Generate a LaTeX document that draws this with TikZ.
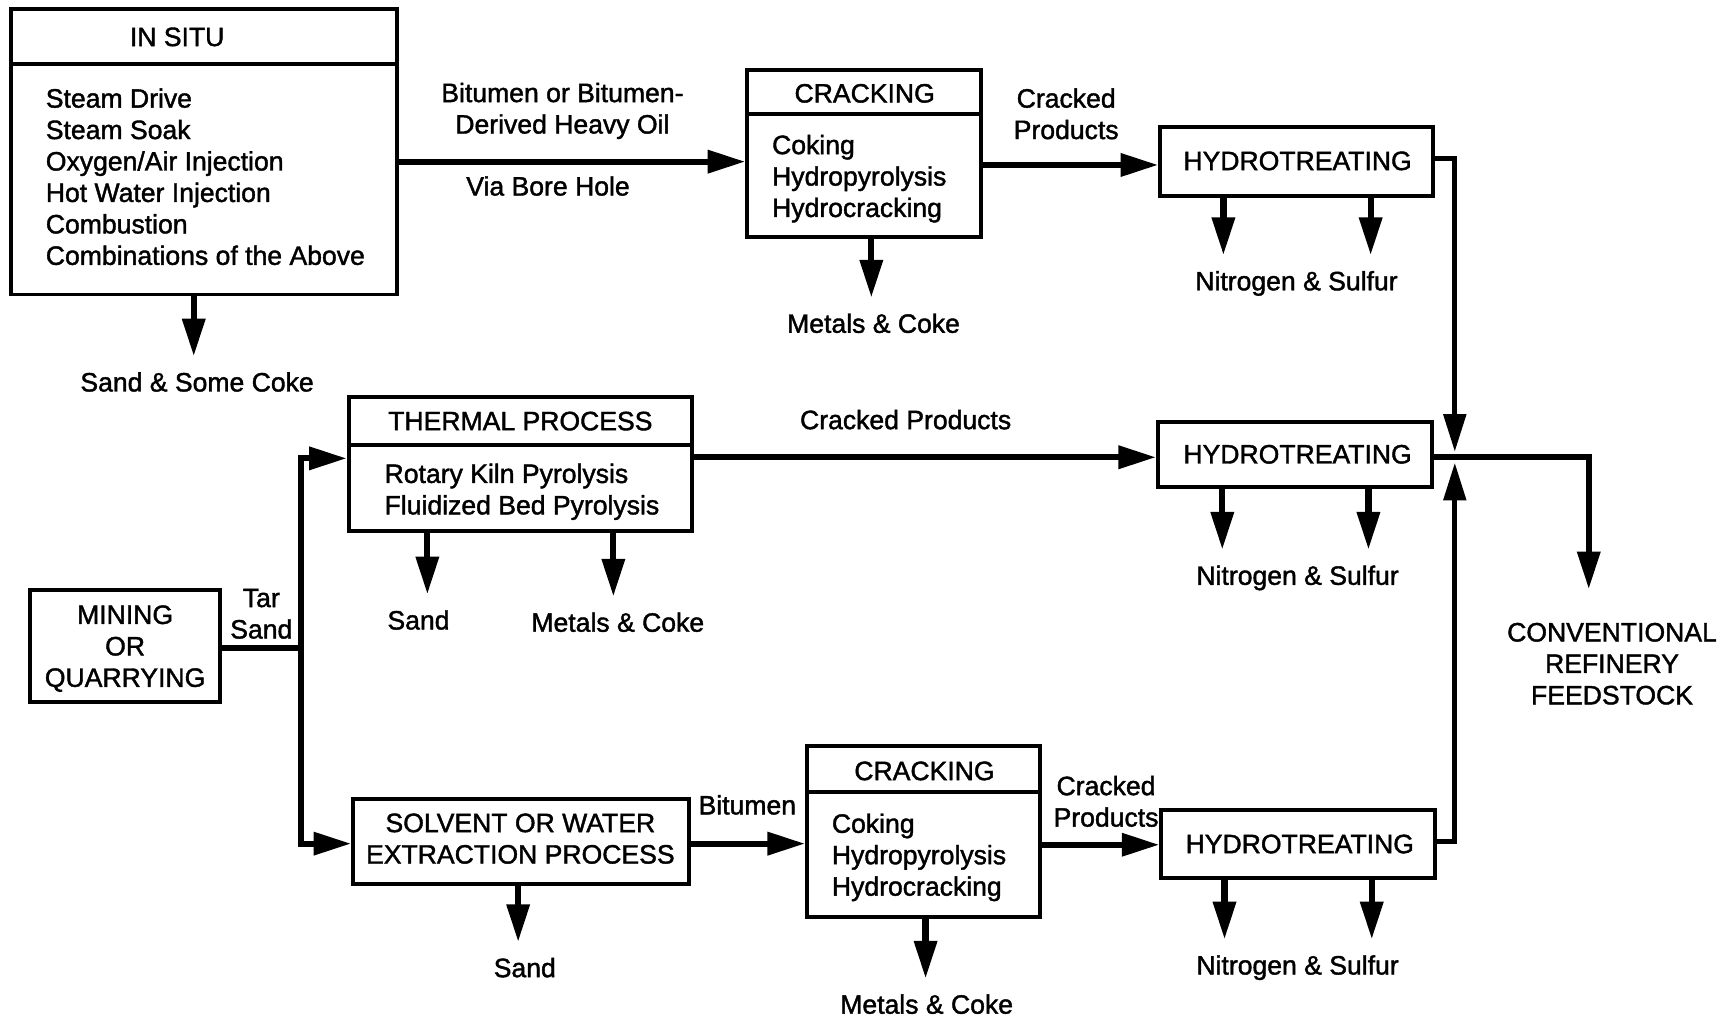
\documentclass[tikz,border=0pt]{standalone}
\usepackage{fontspec}
\setmainfont[FakeBold=1.5]{Liberation Sans}
\usetikzlibrary{arrows.meta,fit}
\begin{document}
\begin{tikzpicture}[x=0.5pt,y=-0.5pt,
  box/.style={draw, line width=1.8pt, inner sep=0pt, fit={#1}},
  divider/.style={line width=1.8pt},
  txt/.style={font=\fontsize{12}{14.2}\selectfont, inner sep=0pt},
  lbl/.style={txt, inner ysep=7pt},
  arr/.style={line width=2.8pt, line cap=rect, -{Triangle[length=17pt,width=10pt]}},
  conn/.style={line width=2.8pt, line cap=rect}]
\useasboundingbox[fill=white] (0,0) rectangle (1568,920);

% ---------- IN SITU ----------
\node[box={(10,8) (359,266)}] (insitu) {};
\draw[divider] (insitu.west |- 0,58) -- (insitu.east |- 0,58);
\node[txt, anchor=base] (insituT) at (160,41.6) {IN SITU};
\node[txt, anchor=north west, align=left] (insituL) at (41,79.4)
  {Steam Drive\\Steam Soak\\Oxygen/Air Injection\\Hot Water Injection\\Combustion\\Combinations of the Above};
\node[lbl] (sandcoke) at (178,345) {Sand \& Some Coke};
\draw[arr] (insitu.south -| 175,0) -- (sandcoke.north -| 175,0);

% ---------- CRACKING 1 ----------
\node[box={(675,63) (886,214)}] (crackA) {};
\draw[divider] (crackA.west |- 0,103) -- (crackA.east |- 0,103);
\node[txt, anchor=base] (crackAT) at (781,92.6) {CRACKING};
\node[txt, anchor=north west, align=left] (crackAL) at (697,121.4)
  {Coking\\Hydropyrolysis\\Hydrocracking};
\node[lbl] (mcA) at (789,292) {Metals \& Coke};
\draw[arr] (crackA.south -| 787,0) -- (mcA.north -| 787,0);

\node[txt, anchor=north, align=center] (bitlbl) at (508,74.4) {Bitumen or Bitumen-\\Derived Heavy Oil};
\node[txt, anchor=base] (borelbl) at (495,176.6) {Via Bore Hole};
\draw[arr] (insitu.east |- 0,146) -- (crackA.west |- 0,146);

% ---------- HYDROTREATING 1 ----------
\node[box={(1048,115) (1294,177)}] (hydA) {};
\node[txt, anchor=base] (hydAT) at (1172,153.6) {HYDROTREATING};
\node[txt, anchor=north, align=center] (cpA) at (963,79.4) {Cracked\\Products};
\draw[arr] (crackA.east |- 0,149) -- (hydA.west |- 0,149);
\node[lbl] (nsA) at (1171,256) {Nitrogen \& Sulfur};
\draw[arr] (hydA.south -| 1105,0) -- (nsA.north -| 1105,0);
\draw[arr] (hydA.south -| 1238,0) -- (nsA.north -| 1238,0);

% ---------- THERMAL PROCESS ----------
\node[box={(315,359) (625,480)}] (thermal) {};
\draw[divider] (thermal.west |- 0,402) -- (thermal.east |- 0,402);
\node[txt, anchor=base] (thermalT) at (470,388.6) {THERMAL PROCESS};
\node[txt, anchor=north west, align=left] (thermalL) at (347,418.4)
  {Rotary Kiln Pyrolysis\\Fluidized Bed Pyrolysis};
\node[lbl] (sandB) at (378,560) {Sand};
\node[lbl] (mcB) at (558,562) {Metals \& Coke};
\draw[arr] (thermal.south -| 386,0) -- (sandB.north -| 386,0);
\draw[arr] (thermal.south -| 554,0) -- (mcB.north -| 554,0);

% ---------- HYDROTREATING 2 ----------
\node[box={(1046,381) (1293,440)}] (hydB) {};
\node[txt, anchor=base] (hydBT) at (1172,418.6) {HYDROTREATING};
\node[txt, anchor=base] (cpB) at (818,387.6) {Cracked Products};
\draw[arr] (thermal.east |- 0,413) -- (hydB.west |- 0,413);
\node[lbl] (nsB) at (1172,522) {Nitrogen \& Sulfur};
\draw[arr] (hydB.south -| 1104,0) -- (nsB.north -| 1104,0);
\draw[arr] (hydB.south -| 1236,0) -- (nsB.north -| 1236,0);

% ---------- MINING ----------
\node[box={(27,533) (199,634)}] (mining) {};
\node[txt, anchor=north, align=center] (miningT) at (113,546.4) {MINING\\OR\\QUARRYING};
\node[txt, anchor=north, align=center] (tarsand) at (236,531.4) {Tar\\Sand};
\coordinate (ts) at (272,585);

% ---------- SOLVENT ----------
\node[box={(319,722) (622,798)}] (solvent) {};
\node[txt, anchor=north, align=center] (solventT) at (470,734.4) {SOLVENT OR WATER\\EXTRACTION PROCESS};
\node[lbl] (sandC) at (474,874) {Sand};
\draw[arr] (solvent.south -| 468,0) -- (sandC.north -| 468,0);

\draw[conn] (mining.east |- ts) -- (ts);
\draw[arr] (ts) |- (thermal.west |- 0,414);
\draw[arr] (ts) |- (solvent.west |- 0,762);

% ---------- CRACKING 2 ----------
\node[box={(729,674) (939,828)}] (crackB) {};
\draw[divider] (crackB.west |- 0,715) -- (crackB.east |- 0,715);
\node[txt, anchor=base] (crackBT) at (835,704.6) {CRACKING};
\node[txt, anchor=north west, align=left] (crackBL) at (751,734.4)
  {Coking\\Hydropyrolysis\\Hydrocracking};
\node[txt, anchor=base] (bitB) at (675,735.6) {Bitumen};
\draw[arr] (solvent.east |- 0,762) -- (crackB.west |- 0,762);
\node[lbl] (mcC) at (837,907) {Metals \& Coke};
\draw[arr] (crackB.south -| 836,0) -- (mcC.north -| 836,0);

% ---------- HYDROTREATING 3 ----------
\node[box={(1049,732) (1296,793)}] (hydC) {};
\node[txt, anchor=base] (hydCT) at (1174,770.6) {HYDROTREATING};
\node[txt, anchor=north, align=center] (cpC) at (999,700.4) {Cracked\\Products};
\draw[arr] (crackB.east |- 0,763) -- (hydC.west |- 0,763);
\node[lbl] (nsC) at (1172,874) {Nitrogen \& Sulfur};
\draw[arr] (hydC.south -| 1106,0) -- (nsC.north -| 1106,0);
\draw[arr] (hydC.south -| 1239,0) -- (nsC.north -| 1239,0);

% ---------- OUTPUT ----------
\node[txt, inner ysep=15pt, align=center] (conv) at (1456,599.5) {CONVENTIONAL\\REFINERY\\FEEDSTOCK};
\coordinate (jn) at (1314,408);
\coordinate (js) at (1314,418);
\draw[arr, line width=2.2pt] (hydA.east |- 0,143) -| (jn);
\draw[arr, line width=2.2pt] (hydC.east |- 0,760) -| (js);
\draw[arr] (hydB.east |- 0,413) -| (conv.north -| 1435,0);
\end{tikzpicture}
\end{document}
